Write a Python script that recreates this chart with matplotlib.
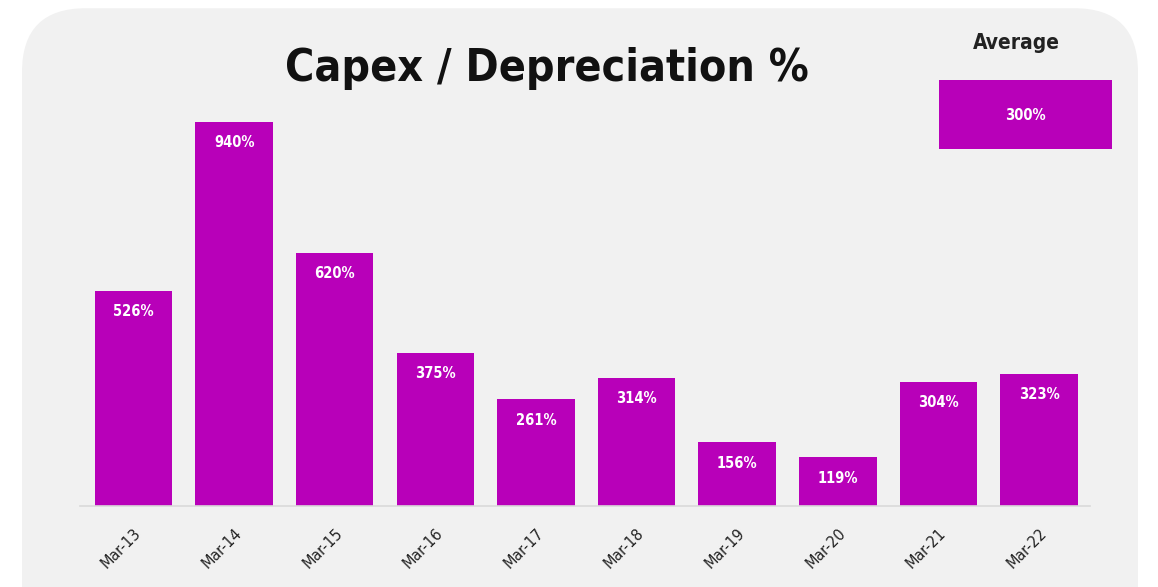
import matplotlib.pyplot as plt
from matplotlib.patches import FancyBboxPatch, Rectangle

years = ['Mar-13', 'Mar-14', 'Mar-15', 'Mar-16', 'Mar-17',
         'Mar-18', 'Mar-19', 'Mar-20', 'Mar-21', 'Mar-22']
capex_dep = [526, 940, 620, 375, 261, 314, 156, 119, 304, 323]
average = 300

purple = '#b800b9'
panel = '#f1f1f1'
W, H = 1158, 587

plt.rcParams['font.family'] = ['DejaVu Sans']
plt.rcParams['font.stretch'] = 'condensed'

fig = plt.figure(figsize=(W / 100, H / 100), dpi=100)
fig.patch.set_facecolor('white')

# rounded grey card behind everything
card = FancyBboxPatch((22 / W, -0.2), 1116 / W, 1.186,
                      boxstyle='round,pad=0,rounding_size=0.055',
                      transform=fig.transFigure, facecolor=panel,
                      edgecolor='none', zorder=-5,
                      mutation_aspect=W / H)
fig.patches.append(card)

ax = fig.add_axes([80 / W, (H - 506) / H, 1010 / W, 408.5 / H])
ax.set_facecolor('none')
ax.set_zorder(2)
x = range(len(years))
bars = ax.bar(x, capex_dep, width=0.77, color=purple, zorder=2)
ax.set_xlim(-0.532, 9.507)
ax.set_ylim(0, 1000)

for rect, v in zip(bars, capex_dep):
    ax.annotate(f'{v}%', (rect.get_x() + rect.get_width() / 2, v),
                xytext=(0, -15), textcoords='offset points',
                ha='center', va='center', color='white',
                fontsize=10.5, fontweight='bold')

ax.set_xticks(list(x))
ax.set_xticklabels(years, rotation=45, ha='right', rotation_mode='anchor',
                   fontsize=11.5, color='#222222')
ax.tick_params(axis='x', length=0, pad=14)
ax.set_yticks([])
for side in ['top', 'right', 'left']:
    ax.spines[side].set_visible(False)
ax.spines['bottom'].set_color('#d9d9d9')
ax.spines['bottom'].set_linewidth(1.2)

fig.text(547 / W, 1 - 68 / H, 'Capex / Depreciation %', ha='center',
         va='center', fontsize=32, fontweight='bold', color='#111111')

# average box
fig.text(1016 / W, 1 - 43 / H, 'Average', ha='center', va='center',
         fontsize=15, fontweight='bold', color='#222222')
fig.patches.append(Rectangle((939 / W, 1 - 149 / H), 173 / W, 69 / H,
                             transform=fig.transFigure, facecolor=purple,
                             edgecolor='none', zorder=1))
fig.text(1025 / W, 1 - 115 / H, f'{average}%', ha='center', va='center',
         fontsize=10.5, fontweight='bold', color='white')

fig.savefig('out.png', dpi=100)
